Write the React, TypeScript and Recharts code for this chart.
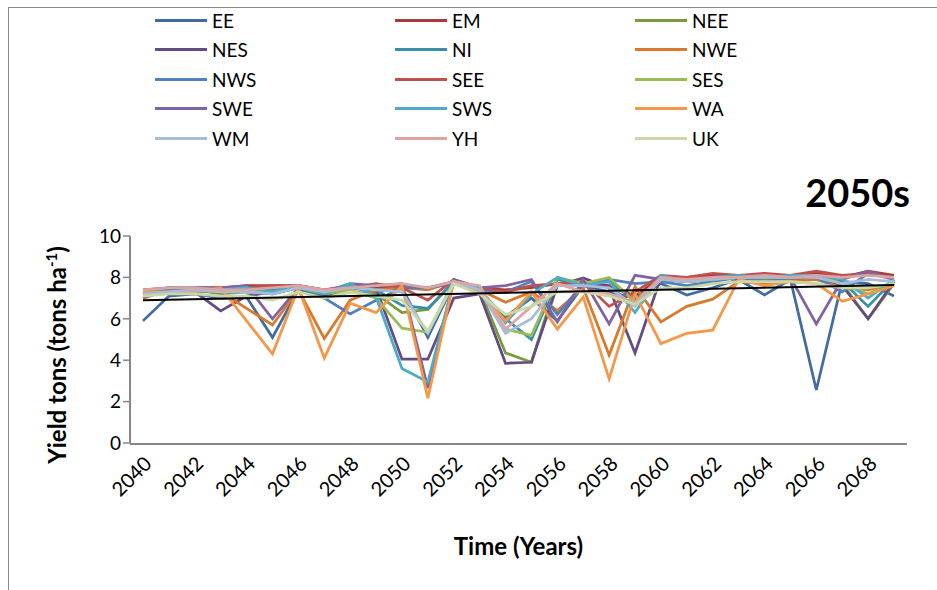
import React from 'react';
import { LineChart, Line, XAxis, YAxis, ReferenceLine, Label } from 'recharts';

// years on the category axis
const years = ['2040','2041','2042','2043','2044','2045','2046','2047','2048','2049','2050','2051','2052','2053','2054','2055','2056','2057','2058','2059','2060','2061','2062','2063','2064','2065','2066','2067','2068','2069'];

const regions = ['EE','EM','NEE','NES','NI','NWE','NWS','SEE','SES','SWE','SWS','WA','WM','YH','UK'];
const colors = ['#3F6CA3','#A83C3A','#7A9A3E','#644C83','#3890A8','#D9782D','#4F81BD','#C0504D','#9BBB59','#8064A2','#4BACC6','#F79646','#A7BCDB','#DCA5A3','#C7D9A6'];

// yield (tons/ha) per region, 2040-2069
const EE = [5.9,7.1,7.2,7.0,7.05,5.1,7.4,7.1,7.5,7.3,7.5,5.1,7.7,7.3,6.1,7.0,5.9,7.6,7.3,7.0,7.7,7.15,7.5,7.9,7.15,7.9,2.56,7.8,7.7,7.1];
const EM = [7.4,7.5,7.5,7.5,7.6,7.6,7.6,7.4,7.6,7.5,7.6,7.5,7.8,7.5,7.4,7.5,7.7,7.7,7.6,7.1,8.0,8.0,8.1,8.1,8.1,8.1,8.2,8.0,8.3,8.1];
const NEE = [7.2,7.3,7.4,7.2,7.3,7.2,7.5,7.0,7.3,7.2,6.3,6.45,7.8,7.4,4.35,3.9,7.9,7.6,7.9,6.9,7.9,7.8,7.9,8.0,7.9,7.9,8.0,7.7,6.0,7.7];
const NES = [7.1,7.3,7.3,6.38,7.1,7.3,7.5,7.2,7.6,7.5,4.05,4.05,7.0,7.2,3.85,3.9,7.6,7.97,7.5,4.35,8.0,7.8,7.9,8.0,8.0,8.0,7.9,7.6,6.0,7.8];
const NI = [7.3,7.4,7.3,7.4,7.4,7.4,7.5,7.3,7.6,7.4,6.65,6.5,7.8,7.4,6.0,5.0,7.9,7.7,7.8,6.9,7.9,7.9,8.0,8.1,8.0,8.1,8.1,7.8,6.6,7.9];
const NWE = [7.3,7.4,7.4,7.3,6.5,5.7,7.4,5.05,6.9,7.4,7.5,7.4,7.8,7.4,6.8,7.3,6.4,7.5,4.25,7.55,5.85,6.6,6.95,7.8,7.7,7.8,7.9,7.5,7.4,7.7];
const NWS = [7.2,7.5,7.4,7.4,7.3,7.2,7.5,7.0,6.23,6.9,7.5,7.5,7.7,7.4,7.3,7.8,6.2,7.7,7.9,7.7,7.8,7.6,7.8,8.0,7.8,8.0,8.0,7.3,8.2,7.9];
const SEE = [7.0,7.4,7.5,7.5,7.5,7.6,7.6,7.4,7.5,7.7,7.5,6.9,7.9,7.5,7.3,7.6,7.7,7.8,6.6,7.3,8.1,8.0,8.2,8.1,8.2,8.1,8.3,8.1,8.2,8.0];
const SES = [7.3,7.4,7.4,7.3,7.4,7.3,7.5,7.2,7.4,7.0,5.55,5.35,7.8,7.3,5.5,5.2,8.0,7.7,8.0,6.8,8.0,7.8,7.9,8.0,8.0,8.0,8.1,7.7,7.2,7.8];
const SWE = [7.4,7.4,7.5,7.5,7.6,6.0,7.5,7.3,7.7,7.6,7.7,2.65,7.9,7.5,7.6,7.9,5.85,7.9,5.75,8.1,7.9,7.8,8.0,8.0,8.1,8.0,5.75,7.9,8.3,7.9];
const SWS = [7.3,7.5,7.5,7.4,7.5,7.3,7.6,7.2,7.7,7.05,3.6,2.95,7.8,7.5,5.8,7.2,8.0,7.6,7.8,6.3,8.1,7.8,8.0,8.1,8.0,8.1,8.1,7.9,7.0,7.9];
const WA = [7.3,7.3,7.3,7.5,5.9,4.3,7.5,4.1,6.75,6.3,7.6,2.17,7.8,7.3,5.9,7.3,5.5,7.05,3.1,7.2,4.8,5.3,5.45,7.9,7.6,7.8,7.7,6.85,7.2,7.6];
const WM = [7.2,7.3,7.4,7.3,7.3,7.2,7.5,7.3,7.5,7.4,7.3,5.3,7.8,7.4,5.3,6.0,7.6,7.6,7.5,6.6,7.9,7.8,7.9,8.0,8.0,8.0,8.0,7.7,7.9,7.8];
const YH = [7.4,7.5,7.5,7.4,7.4,7.5,7.6,7.4,7.5,7.6,7.7,7.5,7.8,7.6,5.5,6.6,7.7,7.3,7.2,6.8,8.0,7.9,8.0,8.0,8.1,8.0,8.1,8.0,8.1,8.0];
const UK = [7.1,7.2,7.2,7.1,7.1,6.9,7.3,7.0,7.3,7.1,6.9,5.4,7.7,7.2,6.2,6.6,7.3,7.3,7.1,6.7,7.5,7.5,7.7,7.8,7.8,7.8,7.7,7.5,7.5,7.7];

const series = [EE, EM, NEE, NES, NI, NWE, NWS, SEE, SES, SWE, SWS, WA, WM, YH, UK];

// linear trend end points
const trendStart = 6.9;
const trendEnd = 7.63;

const yTicks = [0, 2, 4, 6, 8, 10];
// tick marks sit between the categories, like Excel does
const boundaryTicks = years.map((_, i) => i).concat([years.length]);

const data = years.map((year, i) => {
    const row: any = { year, idx: i + 0.5 };
    regions.forEach((r, k) => { row[r] = series[k][i]; });
    return row;
});

const FONT = 'Lato, "Open Sans", sans-serif';

function YLabel() {
    const cx = 66;
    const cy = 355;
    return (
        <text x={cx} y={cy} transform={`rotate(-90, ${cx}, ${cy})`} textAnchor="middle" fontFamily={FONT} fontWeight={700} fontSize={24} fill="#000">
            Yield tons (tons ha<tspan dy={-9} fontSize={15}>-1</tspan><tspan dy={9}>)</tspan>
        </text>
    );
}

export default function App() {
    return (
        <div style={{ position: 'absolute', left: 0, top: 0, width: 937, height: 590, background: '#fff', fontFamily: FONT }}>
            {/* chart area frame, only left and top edges visible */}
            <div style={{ position: 'absolute', left: 8, top: 7, width: 929, height: 583, borderLeft: '1.5px solid #8a8a8a', borderTop: '1.5px solid #8a8a8a' }} />

            {/* legend */}
            {regions.map((r, k) => {
                const col = k % 3;
                const row = Math.floor(k / 3);
                return (
                    <div key={r} style={{ position: 'absolute', left: 155 + col * 240, top: 20 + row * 29.5 - 12, height: 24, display: 'flex', alignItems: 'center' }}>
                        <div style={{ width: 52, height: 3, background: colors[k] }} />
                        <span style={{ marginLeft: 5, fontSize: 19, color: '#000' }}>{r}</span>
                    </div>
                );
            })}

            <div style={{ position: 'absolute', right: 27, top: 173, fontSize: 38, lineHeight: 1, fontWeight: 700, color: '#000' }}>2050s</div>

            <div style={{ position: 'absolute', left: 0, top: 0 }}>
                <LineChart width={937} height={590} data={data} margin={{ top: 236, right: 30, bottom: 32, left: 0 }}>
                    <XAxis
                        xAxisId="cat"
                        dataKey="year"
                        height={1}
                        interval={1}
                        padding={{ left: 13, right: 13 }}
                        axisLine={false}
                        tickLine={false}
                        tickMargin={6}
                        angle={-45}
                        textAnchor="end"
                        tick={{ fontSize: 20, fill: '#000', fontFamily: FONT }}
                    />
                    <XAxis
                        xAxisId="marks"
                        type="number"
                        dataKey="idx"
                        domain={[0, years.length]}
                        ticks={boundaryTicks}
                        height={114}
                        tick={false}
                        tickSize={7}
                        axisLine={{ stroke: '#868686', strokeWidth: 2 }}
                        tickLine={{ stroke: '#868686', strokeWidth: 1.5 }}
                        allowDataOverflow
                    >
                        <Label value="Time (Years)" position="insideBottom" offset={3} style={{ fontSize: 24, fontWeight: 700, fill: '#000', fontFamily: FONT }} />
                    </XAxis>
                    <YAxis
                        width={130}
                        domain={[0, 10]}
                        ticks={yTicks}
                        tickSize={7}
                        axisLine={{ stroke: '#868686', strokeWidth: 2 }}
                        tickLine={{ stroke: '#868686', strokeWidth: 1.5 }}
                        tick={{ fontSize: 19, fill: '#000', fontFamily: FONT }}
                        label={{ content: YLabel }}
                    />
                    {regions.map((r, k) => (
                        <Line key={r} xAxisId="cat" dataKey={r} stroke={colors[k]} strokeWidth={2.75} dot={false} isAnimationActive={false} />
                    ))}
                    <ReferenceLine
                        xAxisId="cat"
                        segment={[{ x: years[0], y: trendStart }, { x: years[years.length - 1], y: trendEnd }]}
                        stroke="#000"
                        strokeWidth={2}
                    />
                </LineChart>
            </div>
        </div>
    );
}
